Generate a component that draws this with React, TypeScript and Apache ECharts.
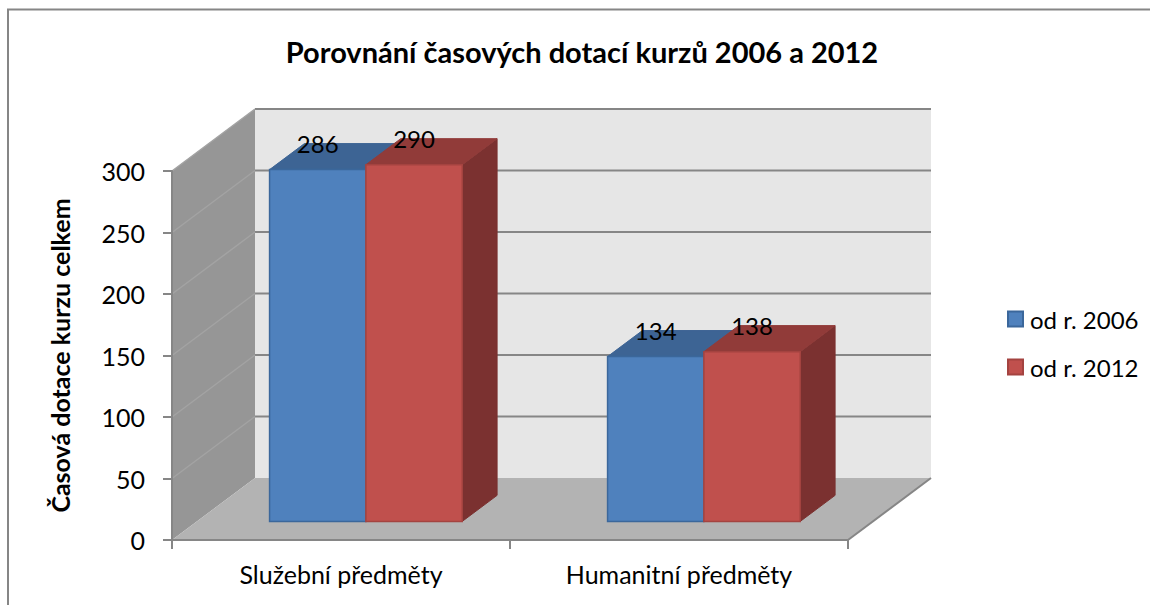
import React, { useEffect, useRef } from "react";
import * as echarts from "echarts";

const TITLE = "Porovnání časových dotací kurzů 2006 a 2012";
const Y_NAME = "Časová dotace kurzu celkem";
const CATEGORIES = ["Služební předměty", "Humanitní předměty"];
const SERIES_NAMES = ["od r. 2006", "od r. 2012"];
const VALUES_2006 = [286, 134];
const VALUES_2012 = [290, 138];
const Y_TICKS = [0, 50, 100, 150, 200, 250, 300];

const FONT = "Lato, 'Open Sans', sans-serif";
const DEPTH_X = 83;
const DEPTH_Y = -62;
const BAR_FRONT = 0.3;
const BAR_DEPTH = 0.42;
const BAR_FRAC = 0.285;

const COLORS = [
  { front: "#4F81BD", stroke: "#3B679B", top: "#3D6494", side: "#34557E" },
  { front: "#C0504D", stroke: "#A44340", top: "#913B39", side: "#7B3130" },
];

export default function App() {
  const ref = useRef<HTMLDivElement>(null);
  useEffect(() => {
    if (!ref.current) return;
    const chart = echarts.init(ref.current, null, { renderer: "svg" });

    const frameSeries = {
      type: "custom",
      name: "frame",
      silent: true,
      data: [[0, 0]],
      z: 1,
      renderItem: (params: any, api: any) => {
        const cs = params.coordSys;
        const left = cs.x;
        const right = cs.x + cs.width;
        const bottom = cs.y + cs.height;
        const yOf = (v: number) => api.coord([0, v])[1];
        const topV = yOf(Y_TICKS[Y_TICKS.length - 1]);
        const children: any[] = [];
        children.push({
          type: "rect",
          shape: { x: left + DEPTH_X, y: topV + DEPTH_Y, width: right - left, height: bottom - topV },
          style: { fill: "#E6E6E6" },
        });
        children.push({
          type: "polygon",
          shape: {
            points: [
              [left, topV],
              [left + DEPTH_X, topV + DEPTH_Y],
              [left + DEPTH_X, bottom + DEPTH_Y],
              [left, bottom],
            ],
          },
          style: { fill: "#969696" },
        });
        children.push({
          type: "polygon",
          shape: {
            points: [
              [left, bottom],
              [right, bottom],
              [right + DEPTH_X, bottom + DEPTH_Y],
              [left + DEPTH_X, bottom + DEPTH_Y],
            ],
          },
          style: { fill: "#B3B3B3" },
        });
        Y_TICKS.forEach((t) => {
          const y = yOf(t);
          if (t > 0) {
            children.push({
              type: "line",
              shape: { x1: left + DEPTH_X, y1: y + DEPTH_Y, x2: right + DEPTH_X, y2: y + DEPTH_Y },
              style: { stroke: "#868686", lineWidth: 2 },
            });
            children.push({
              type: "line",
              shape: { x1: left, y1: y, x2: left + DEPTH_X, y2: y + DEPTH_Y },
              style: { stroke: "#A3A3A3", lineWidth: 1.5 },
            });
          }
        });
        children.push({
          type: "line",
          shape: { x1: right, y1: bottom, x2: right + DEPTH_X, y2: bottom + DEPTH_Y },
          style: { stroke: "#868686", lineWidth: 2 },
        });
        return { type: "group", children };
      },
    };

    const barSeries = (idx: number, values: number[]) => ({
      type: "custom",
      name: SERIES_NAMES[idx],
      z: 2 + idx,
      itemStyle: { color: COLORS[idx].front, borderColor: COLORS[idx].stroke, borderWidth: 1 },
      data: values.map((v, i) => [i, v]),
      renderItem: (params: any, api: any) => {
        const cat = api.value(0);
        const v = api.value(1);
        const topPt = api.coord([cat, v]);
        const basePt = api.coord([cat, 0]);
        const bw = api.size([1, 0])[0];
        const w = bw * BAR_FRAC;
        const fx = DEPTH_X * BAR_FRONT;
        const fy = DEPTH_Y * BAR_FRONT;
        const dx = DEPTH_X * BAR_DEPTH;
        const dy = DEPTH_Y * BAR_DEPTH;
        const x0 = topPt[0] - w + idx * w + fx;
        const x1 = x0 + w;
        const ty = topPt[1] + fy;
        const by = basePt[1] + fy;
        const c = COLORS[idx];
        return {
          type: "group",
          children: [
            {
              type: "polygon",
              shape: { points: [[x1, ty], [x1 + dx, ty + dy], [x1 + dx, by + dy], [x1, by]] },
              style: { fill: c.side, stroke: c.side, lineWidth: 1 },
            },
            {
              type: "polygon",
              shape: { points: [[x0, ty], [x1, ty], [x1 + dx, ty + dy], [x0 + dx, ty + dy]] },
              style: { fill: c.top, stroke: c.top, lineWidth: 1 },
            },
            {
              type: "rect",
              shape: { x: x0, y: ty, width: w, height: by - ty },
              style: { fill: c.front, stroke: c.stroke, lineWidth: 1.5 },
            },
            {
              type: "text",
              x: (x0 + x1) / 2,
              y: ty + dy,
              z2: 10,
              style: {
                text: String(v),
                fill: "#000",
                font: `24px ${FONT}`,
                align: "center",
                verticalAlign: "middle",
              },
            },
          ],
        };
      },
    });

    chart.setOption({
      animation: false,
      backgroundColor: "#fff",
      textStyle: { fontFamily: FONT },
      grid: { left: 172, right: 302, top: 171, bottom: 65 },
      xAxis: {
        type: "category",
        data: CATEGORIES,
        axisLine: { lineStyle: { color: "#868686", width: 2 } },
        axisTick: { show: true, length: 9, lineStyle: { color: "#868686", width: 2 } },
        axisLabel: { color: "#000", fontSize: 25, fontFamily: FONT, margin: 21 },
        z: 5,
      },
      yAxis: {
        type: "value",
        min: 0,
        max: 300,
        interval: 50,
        name: Y_NAME,
        nameLocation: "middle",
        nameRotate: 90,
        nameGap: 100,
        nameTextStyle: { color: "#000", fontSize: 25, fontWeight: "bold", fontFamily: FONT },
        axisLine: { show: true, lineStyle: { color: "#868686", width: 2 } },
        axisTick: { show: true, length: 9, lineStyle: { color: "#868686", width: 2 } },
        axisLabel: { color: "#000", fontSize: 25, fontFamily: FONT, margin: 27 },
        splitLine: { show: false },
        z: 5,
      },
      legend: {
        data: SERIES_NAMES,
        orient: "vertical",
        left: 1002,
        top: 302,
        icon: "rect",
        itemWidth: 15,
        itemHeight: 15,
        itemGap: 24,
        textStyle: { color: "#000", fontSize: 24, fontFamily: FONT, lineHeight: 24, padding: [0, 0, 0, 2] },
      },
      graphic: [
        {
          type: "rect",
          shape: { x: 8, y: 9.5, width: 1160, height: 620 },
          style: { fill: "none", stroke: "#868686", lineWidth: 2 },
          silent: true,
        },
        {
          type: "text",
          x: 582,
          y: 51,
          style: {
            text: TITLE,
            fill: "#000",
            font: `bold 29px ${FONT}`,
            align: "center",
            verticalAlign: "middle",
          },
        },
      ],
      series: [frameSeries, barSeries(0, VALUES_2006), barSeries(1, VALUES_2012)],
    });
    return () => chart.dispose();
  }, []);
  return (
    <div
      ref={ref}
      style={{ position: "absolute", left: 0, top: 0, width: 1150, height: 605 }}
    />
  );
}
